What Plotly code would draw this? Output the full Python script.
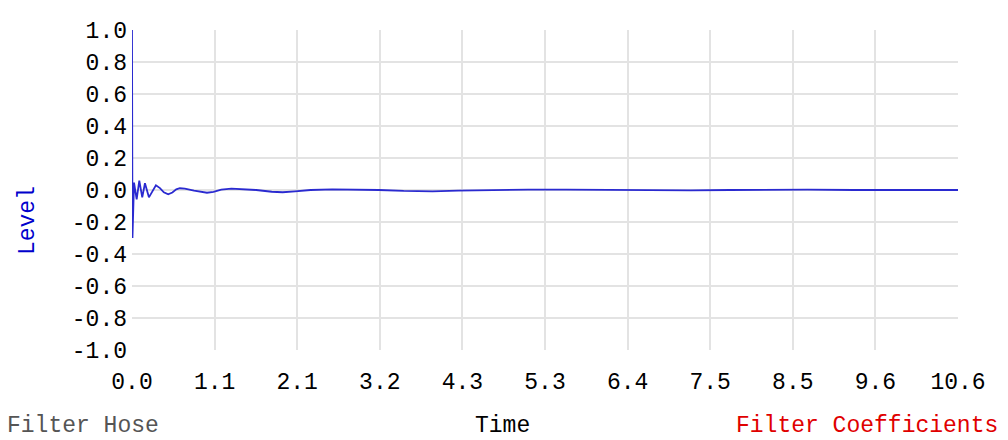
import plotly.graph_objects as go

# impulse response (time vs level)
time = [0.0, 0.006, 0.026, 0.06, 0.094, 0.132, 0.167, 0.218, 0.308, 0.36, 0.41,
        0.466, 0.52, 0.57, 0.616, 0.68, 0.8, 0.9, 0.966, 1.05, 1.15, 1.28, 1.45,
        1.6, 1.8, 1.94, 2.1, 2.3, 2.58, 2.9, 3.18, 3.5, 3.87, 4.2, 4.6, 5.1,
        5.6, 6.2, 6.8, 7.2, 7.7, 8.2, 8.7, 9.3, 10.0, 10.64]
level = [1.0, -0.30, 0.046, -0.058, 0.058, -0.046, 0.042, -0.046, 0.03, 0.012, -0.014,
         -0.027, -0.016, 0.004, 0.011, 0.008, -0.004, -0.014, -0.017, -0.012, 0.002, 0.008, 0.005,
         0.0, -0.011, -0.014, -0.008, 0.0, 0.004, 0.003, 0.0, -0.006, -0.008, -0.004, 0.0, 0.002,
         0.002, 0.0, -0.002, -0.002, 0.0, 0.002, 0.002, 0.0, 0.0, 0.0]

x_max = 10.64
x_tick_labels = ["0.0", "1.1", "2.1", "3.2", "4.3", "5.3", "6.4", "7.5", "8.5", "9.6", "10.6"]
y_tick_vals = [-1.0, -0.8, -0.6, -0.4, -0.2, 0.0, 0.2, 0.4, 0.6, 0.8, 1.0]
y_tick_labels = ["-1.0", "-0.8", "-0.6", "-0.4", "-0.2", "0.0", "0.2", "0.4", "0.6", "0.8", "1.0"]

mono = "Liberation Mono"
fsize = 23
grid = "#e3e3e3"

fig = go.Figure()
fig.add_trace(go.Scatter(x=time, y=level, mode="lines",
                         line=dict(color="#2a2ad0", width=1.8), hoverinfo="skip"))

fig.update_layout(
    width=1008, height=440,
    margin=dict(l=132, r=50, t=30, b=90),
    paper_bgcolor="white", plot_bgcolor="white",
    showlegend=False,
    font=dict(family=mono, size=fsize, color="black"),
)
fig.update_xaxes(
    range=[0, x_max],
    tickvals=[x_max * i / 10 for i in range(11)],
    ticktext=x_tick_labels,
    showgrid=True, gridcolor=grid, gridwidth=1.5,
    zeroline=False, showline=False,
    ticks="", ticklabelstandoff=15,
)
fig.update_yaxes(
    range=[-1.0, 1.0],
    tickvals=y_tick_vals,
    ticktext=y_tick_labels,
    showgrid=True, gridcolor=grid, gridwidth=1.5,
    zeroline=False, showline=False,
    ticks="", ticklabelstandoff=4,
)

fig.add_annotation(text="Level", xref="paper", yref="paper", x=-0.1259, y=0.403,
                   textangle=-90, showarrow=False, xanchor="center", yanchor="middle",
                   font=dict(family=mono, size=fsize, color="#0000cc"))
fig.add_annotation(text="Filter Hose", xref="paper", yref="paper", x=-0.1538, y=-0.2375,
                   showarrow=False, xanchor="left", yanchor="middle",
                   font=dict(family=mono, size=fsize, color="#555555"))
fig.add_annotation(text="Time", xref="paper", yref="paper", x=0.449, y=-0.2375,
                   showarrow=False, xanchor="center", yanchor="middle",
                   font=dict(family=mono, size=fsize, color="black"))
fig.add_annotation(text="Filter Coefficients", xref="paper", yref="paper", x=1.0508, y=-0.2375,
                   showarrow=False, xanchor="right", yanchor="middle",
                   font=dict(family=mono, size=fsize, color="#e00000"))

# drop the default page margin so the figure sits flush in the window
fig.write_html("out.html", config={"displayModeBar": False},
               post_script="document.body.style.margin='0';")
